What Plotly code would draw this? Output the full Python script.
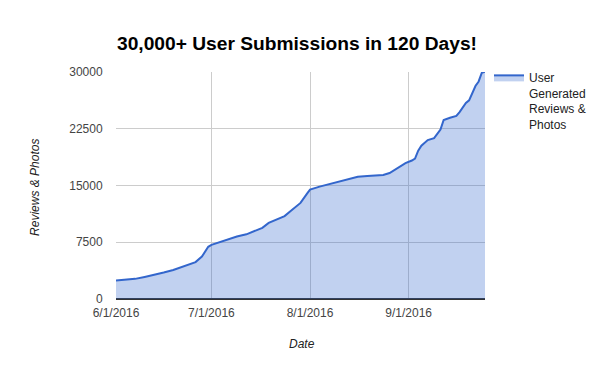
import plotly.graph_objects as go

dates = ["2016-06-01", "2016-06-04", "2016-06-07", "2016-06-10", "2016-06-13", "2016-06-16",
         "2016-06-19", "2016-06-22", "2016-06-24", "2016-06-26", "2016-06-28", "2016-06-29",
         "2016-06-30", "2016-07-01", "2016-07-03", "2016-07-06", "2016-07-09", "2016-07-12",
         "2016-07-15", "2016-07-17", "2016-07-19", "2016-07-22", "2016-07-24", "2016-07-26",
         "2016-07-29", "2016-07-31", "2016-08-01", "2016-08-04", "2016-08-07", "2016-08-10",
         "2016-08-13", "2016-08-16", "2016-08-19", "2016-08-22", "2016-08-24", "2016-08-26",
         "2016-08-28", "2016-08-29", "2016-08-31", "2016-09-02", "2016-09-03", "2016-09-04",
         "2016-09-05", "2016-09-07", "2016-09-09", "2016-09-11", "2016-09-12", "2016-09-14",
         "2016-09-16", "2016-09-17", "2016-09-19", "2016-09-20", "2016-09-22", "2016-09-23",
         "2016-09-24", "2016-09-25"]
submissions = [2450, 2520, 2660, 2920, 3160, 3490,
               3830, 4280, 4670, 4880, 5600, 6300,
               6900, 7150, 7450, 7900, 8250, 8550,
               9050, 9400, 10050, 10550, 10950, 11650,
               12700, 13900, 14450, 14850, 15200, 15500,
               15900, 16150, 16260, 16320, 16400, 16650,
               17150, 17450, 17950, 18300, 18550, 19600,
               20250, 21000, 21250, 22400, 23650, 23950,
               24200, 24700, 25900, 26250, 28150, 28750,
               29900, 30050]

series_name = "User<br>Generated<br>Reviews &<br>Photos"
y_ticks = [0, 7500, 15000, 22500, 30000]
y_tick_text = ["0", "7500", "15000", "22500", "30000"]
x_ticks = ["2016-06-01", "2016-07-01", "2016-08-01", "2016-09-01"]
x_tick_text = ["6/1/2016", "7/1/2016", "8/1/2016", "9/1/2016"]

FONT = "Liberation Sans, Arial, sans-serif"

fig = go.Figure()
fig.add_trace(go.Scatter(
    x=dates, y=submissions, name=series_name, mode="lines",
    line=dict(color="#3366cc", width=2),
    fill="tozeroy", fillcolor="rgba(51,102,204,0.3)",
))

fig.update_layout(
    width=600, height=371,
    margin=dict(l=116, r=115, t=72, b=72, autoexpand=False),
    paper_bgcolor="white", plot_bgcolor="white",
    font=dict(family=FONT, size=12, color="#444"),
    title=dict(text="<b>30,000+ User Submissions in 120 Days!</b>",
               font=dict(family=FONT, size=19.2, color="black"),
               x=0.495, xanchor="center", y=0.884, yanchor="middle"),
    showlegend=True,
    legend=dict(xref="container", yref="container", x=0.815, y=0.83,
                xanchor="left", yanchor="top", valign="top",
                font=dict(family=FONT, size=12, color="#222"),
                bgcolor="rgba(0,0,0,0)", tracegroupgap=0),
    xaxis=dict(
        type="date", range=["2016-06-01", "2016-09-25"],
        tickvals=x_ticks, ticktext=x_tick_text,
        showgrid=True, gridcolor="#cccccc", gridwidth=1,
        ticks="outside", ticklen=3, tickcolor="rgba(0,0,0,0)",
        tickfont=dict(family=FONT, size=12, color="#444"),
        showline=False, zeroline=False,
    ),
    yaxis=dict(
        range=[0, 30000], tickvals=y_ticks, ticktext=y_tick_text,
        showgrid=True, gridcolor="#cccccc", gridwidth=1,
        ticks="outside", ticklen=10, tickcolor="rgba(0,0,0,0)",
        tickfont=dict(family=FONT, size=12, color="#444"),
        zeroline=True, zerolinecolor="#333333", zerolinewidth=1.5,
        showline=False,
    ),
    annotations=[
        dict(text="<i>Date</i>", xref="paper", yref="paper", x=0.505, y=-0.2,
             xanchor="center", yanchor="middle", showarrow=False,
             font=dict(family=FONT, size=12, color="#222")),
        dict(text="<i>Reviews & Photos</i>", xref="paper", yref="paper", x=-0.219, y=0.49,
             xanchor="center", yanchor="middle", showarrow=False, textangle=-90,
             font=dict(family=FONT, size=12, color="#222")),
    ],
)

fig.write_html("out.html", config={"displayModeBar": False},
               post_script="document.body.style.margin='0';")
